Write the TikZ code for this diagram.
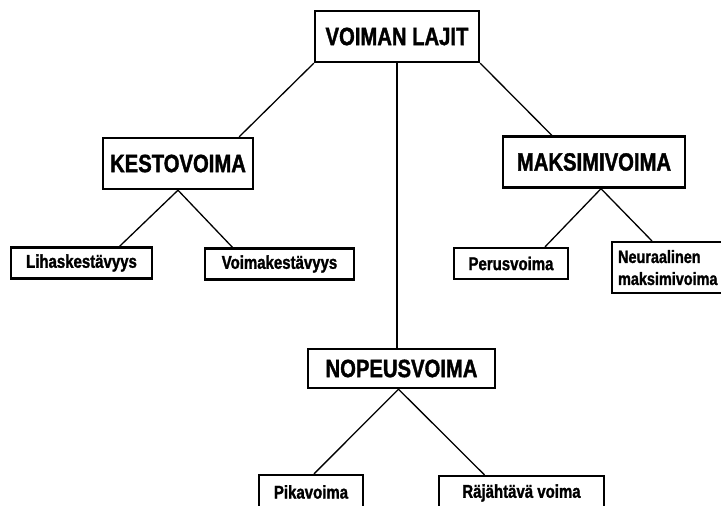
\documentclass[tikz,border=0pt]{standalone}
\usepackage{fontspec}
\setmainfont[FakeStretch=0.81, BoldFeatures={FakeBold=1.4}]{Liberation Sans}
\usepackage{tikz}

\tikzset{
  bigbox/.style={draw, line width=2.4pt, inner sep=0pt, minimum height=51pt, font=\fontsize{25}{28}\selectfont\bfseries},
  smallbox/.style={draw, line width=2.2pt, inner sep=0pt, minimum height=31pt, font=\fontsize{18.5}{22}\selectfont\bfseries},
  link/.style={line width=1.3pt}
}

\begin{document}
\begin{tikzpicture}[x=1pt, y=-1pt]
\clip (0,0) rectangle (721,506);

\node [bigbox, minimum width=164pt] (lajit) at (397,36.5) {VOIMAN LAJIT};
\node [bigbox, minimum width=150pt] (kesto) at (178,163.5) {KESTOVOIMA};
\node [bigbox, minimum width=182pt] (maksimi) at (594,162) {MAKSIMIVOIMA};
\node [bigbox, minimum width=187pt, minimum height=39pt] (nopeus) at (401.5,368.5) {NOPEUSVOIMA};

\node [smallbox, minimum width=141pt] (lihas) at (81.5,263) {Lihaskestävyys};
\node [smallbox, minimum width=149pt] (voimak) at (279.5,264) {Voimakestävyys};
\node [smallbox, minimum width=114pt] (perus) at (511,263.5) {Perusvoima};
\node [smallbox, anchor=north west, text width=110pt, inner xsep=6pt, minimum height=51pt, align=left, font=\fontsize{17.8}{22}\selectfont\bfseries] (neur) at (611,241) {Neuraalinen\\maksimivoima};
\node [smallbox, minimum width=104pt, minimum height=34pt] (pika) at (311,492) {Pikavoima};
\node [smallbox, minimum width=165pt, minimum height=34pt] (rajahtava) at (521.5,493) {Räjähtävä voima};

\draw [link] (lajit.south west) -- ([xshift=-15pt]kesto.north east);
\draw [link] (lajit.south east) -- ([xshift=50pt]maksimi.north west);
\draw [link] (lajit.south) -- (lajit.south |- nopeus.north);

\draw [link] (kesto.south) -- ([xshift=38pt]lihas.north);
\draw [link] (kesto.south) -- ([xshift=-47pt]voimak.north);
\draw [link] ([xshift=7pt]maksimi.south) -- ([xshift=34pt]perus.north);
\draw [link] ([xshift=7pt]maksimi.south) -- ([xshift=41pt]neur.north west);
\draw [link] ([xshift=-3pt]nopeus.south) -- ([xshift=3pt]pika.north);
\draw [link] ([xshift=-3pt]nopeus.south) -- ([xshift=-37pt]rajahtava.north);
\end{tikzpicture}
\end{document}
